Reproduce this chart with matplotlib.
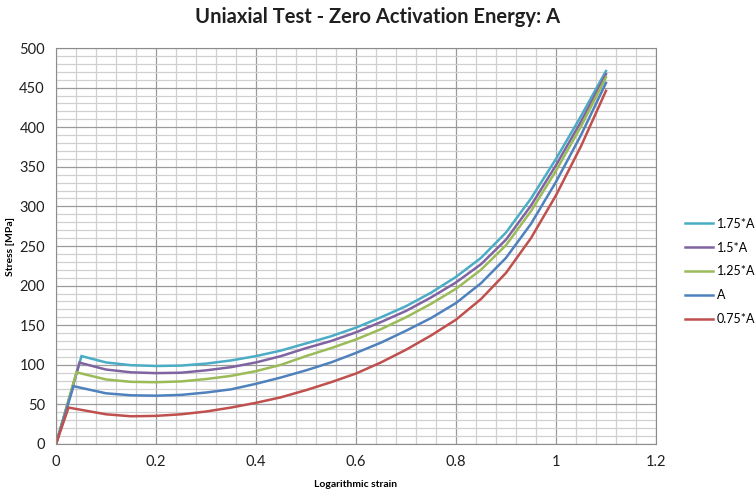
import numpy as np
import matplotlib.pyplot as plt
from matplotlib.ticker import MultipleLocator, FuncFormatter

plt.rcParams['font.family'] = ['Lato', 'DejaVu Sans']

# strain points (peak point differs per series)
strain_tail = [0.1, 0.15, 0.2, 0.25, 0.3, 0.35, 0.4, 0.45, 0.5, 0.55, 0.6, 0.65,
               0.7, 0.75, 0.8, 0.85, 0.9, 0.95, 1.0, 1.05, 1.1]

labels = ['1.75*A', '1.5*A', '1.25*A', 'A', '0.75*A']
colors = ['#4BACC6', '#8064A2', '#9BBB59', '#4F81BD', '#C0504D']

peak_strain = [0.051, 0.047, 0.041, 0.035, 0.025]
peak_stress = [111, 102.7, 90.5, 73, 46]

stress_175 = [103, 99.5, 98.5, 99, 101.5, 105.5, 111, 118, 127, 136, 147, 160,
              174, 191, 211, 235, 267, 310, 360, 414, 471]
stress_150 = [94, 90.5, 89.5, 90, 93, 97, 103, 111, 121, 130, 141, 154,
              168, 185, 204, 227, 258, 301, 352, 407, 467]
stress_125 = [81.5, 78.5, 78, 79, 82, 86, 92, 100, 111, 121, 132, 145,
              160, 177, 196, 220, 251, 294, 345, 401, 463]
stress_100 = [64, 61.5, 61, 62, 65, 69, 76, 84, 93, 103, 115, 128,
              143, 159, 178, 203, 235, 278, 331, 390, 456]
stress_075 = [37.5, 35, 35.5, 37.5, 41, 46, 52, 59, 68, 78, 89, 103,
              119, 137, 157, 183, 216, 260, 314, 376, 446]

series = [stress_175, stress_150, stress_125, stress_100, stress_075]

fig = plt.figure(figsize=(7.56, 4.93), dpi=100)
ax = fig.add_axes([0.0741, 0.0994, 0.7936, 0.8032])

for lab, col, px, py, vals in zip(labels, colors, peak_strain, peak_stress, series):
    x = [0, px] + strain_tail
    y = [0, py] + vals
    ax.plot(x, y, color=col, lw=1.8, label=lab, solid_joinstyle='miter')

ax.set_xlim(0, 1.2)
ax.set_ylim(0, 500)
ax.xaxis.set_major_locator(MultipleLocator(0.2))
ax.xaxis.set_minor_locator(MultipleLocator(0.04))
ax.yaxis.set_major_locator(MultipleLocator(50))
ax.yaxis.set_minor_locator(MultipleLocator(10))
ax.xaxis.set_major_formatter(FuncFormatter(lambda v, p: f'{v:.1f}'.rstrip('0').rstrip('.') if v else '0'))
ax.grid(which='major', color='#9a9a9a', lw=0.9)
ax.grid(which='minor', color='#d0d0d0', lw=0.9)
ax.set_axisbelow(True)
for s in ax.spines.values():
    s.set_color('#8c8c8c')
ax.tick_params(which='both', length=0, labelsize=10.5, colors='#202020', pad=8)

ax.set_xlabel('Logarithmic strain', fontsize=7.5, fontweight='bold', labelpad=8)
ax.set_ylabel('Stress [MPa]', fontsize=7.5, fontweight='bold', labelpad=3)
fig.suptitle('Uniaxial Test - Zero Activation Energy: A', x=0.5, y=0.985,
             fontsize=14.5, fontweight='bold', color='#202020')

ax.legend(loc='upper left', bbox_to_anchor=(1.03, 0.6), frameon=False,
          fontsize=9, handlelength=2.2, handletextpad=0.3, labelspacing=0.95)

fig.savefig('out.png', dpi=100)
